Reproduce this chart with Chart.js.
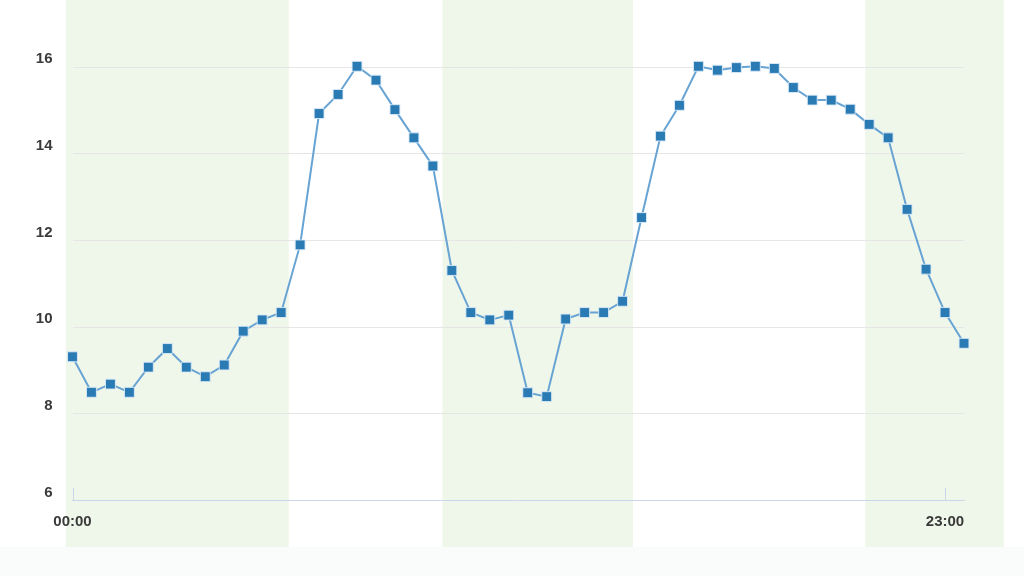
<!DOCTYPE html>
<html>
<head>
<meta charset="utf-8">
<script src="https://cdn.jsdelivr.net/npm/chart.js@4/dist/chart.umd.min.js"></script>
<style>
  html, body { margin: 0; padding: 0; background: #fff; }
  #wrap { width: 1024px; height: 576px; }
</style>
</head>
<body>
<div id="wrap"><canvas id="myChart" width="1024" height="576"></canvas></div>
<script>
const labels = [
  "00:00", "00:30", "01:00", "01:30", "02:00", "02:30", "03:00", "03:30",
  "04:00", "04:30", "05:00", "05:30", "06:00", "06:30", "07:00", "07:30",
  "08:00", "08:30", "09:00", "09:30", "10:00", "10:30", "11:00", "11:30",
  "12:00", "12:30", "13:00", "13:30", "14:00", "14:30", "15:00", "15:30",
  "16:00", "16:30", "17:00", "17:30", "18:00", "18:30", "19:00", "19:30",
  "20:00", "20:30", "21:00", "21:30", "22:00", "22:30", "23:00", "23:30"
];

const values = [
  9.32, 8.50, 8.69, 8.50, 9.08, 9.51, 9.08, 8.86,
  9.13, 9.91, 10.17, 10.34, 11.90, 14.93, 15.37, 16.02,
  15.70, 15.02, 14.37, 13.72, 11.31, 10.34, 10.17, 10.28,
  8.49, 8.40, 10.19, 10.34, 10.34, 10.60, 12.53, 14.41,
  15.12, 16.02, 15.93, 15.99, 16.02, 15.97, 15.53, 15.24,
  15.24, 15.03, 14.68, 14.37, 12.72, 11.34, 10.34, 9.63
];

const yTicks = [6, 8, 10, 12, 14, 16];
const shownXLabels = ["00:00", "23:00"];

// shaded periods, in category index units
const shadedBands = [[-0.35, 11.4], [19.5, 29.55], [41.8, 49.1]];

const FONT = "'Liberation Sans', Arial, sans-serif";

const backdrop = {
  id: "backdrop",
  beforeDraw(chart) {
    const { ctx, width, height, scales: { x } } = chart;
    ctx.save();
    ctx.fillStyle = "#ffffff";
    ctx.fillRect(0, 0, width, height);
    ctx.fillStyle = "#fafcfb";
    ctx.fillRect(0, 547, width, height - 547);
    ctx.fillStyle = "#eff7ea";
    shadedBands.forEach(([from, to]) => {
      const x0 = Math.max(0, x.getPixelForValue(from));
      const x1 = Math.min(width, x.getPixelForValue(to));
      ctx.fillRect(x0, 0, x1 - x0, 547);
    });
    ctx.restore();
  },
  afterDatasetsDraw(chart) {
    const { ctx, chartArea, scales: { x } } = chart;
    ctx.save();
    ctx.strokeStyle = "#ccd6eb";
    ctx.lineWidth = 1;
    shownXLabels.forEach(lbl => {
      const px = Math.round(x.getPixelForValue(labels.indexOf(lbl))) + 0.5;
      ctx.beginPath();
      ctx.moveTo(px, chartArea.bottom);
      ctx.lineTo(px, chartArea.bottom - 13);
      ctx.stroke();
    });
    ctx.restore();
  }
};

new Chart(document.getElementById("myChart"), {
  type: "line",
  data: {
    labels,
    datasets: [
      {
        data: values,
        borderColor: "#67a3d3",
        borderWidth: 2,
        pointStyle: "rect",
        pointRadius: 7,
        pointBackgroundColor: "#2a7bb4",
        pointBorderColor: "rgba(220,235,248,0.9)",
        pointBorderWidth: 1,
        tension: 0
      }
    ]
  },
  plugins: [backdrop],
  options: {
    responsive: false,
    animation: false,
    layout: { padding: { top: 0, right: 60, bottom: 0, left: 0 } },
    plugins: { legend: { display: false }, tooltip: { enabled: false } },
    scales: {
      x: {
        offset: false,
        grid: { display: false, drawTicks: false },
        border: { display: true, color: "#ccd6eb", width: 1 },
        ticks: {
          autoSkip: false,
          maxRotation: 0,
          padding: 12,
          color: "#3a3a3a",
          font: { family: FONT, size: 15, weight: "bold" },
          callback: (v, i) => (shownXLabels.includes(labels[i]) ? labels[i] : "")
        },
        afterFit: scale => { scale.height = 75.3; }
      },
      y: {
        min: 6,
        max: 16.88,
        grid: { color: "#e6e6e6", drawTicks: false },
        border: { display: false },
        afterBuildTicks: scale => { scale.ticks = yTicks.map(value => ({ value })); },
        ticks: {
          padding: 20,
          labelOffset: -8,
          color: "#3a3a3a",
          font: { family: FONT, size: 15, weight: "bold" }
        },
        afterFit: scale => { scale.width = 72.5; }
      }
    }
  }
});
</script>
</body>
</html>
